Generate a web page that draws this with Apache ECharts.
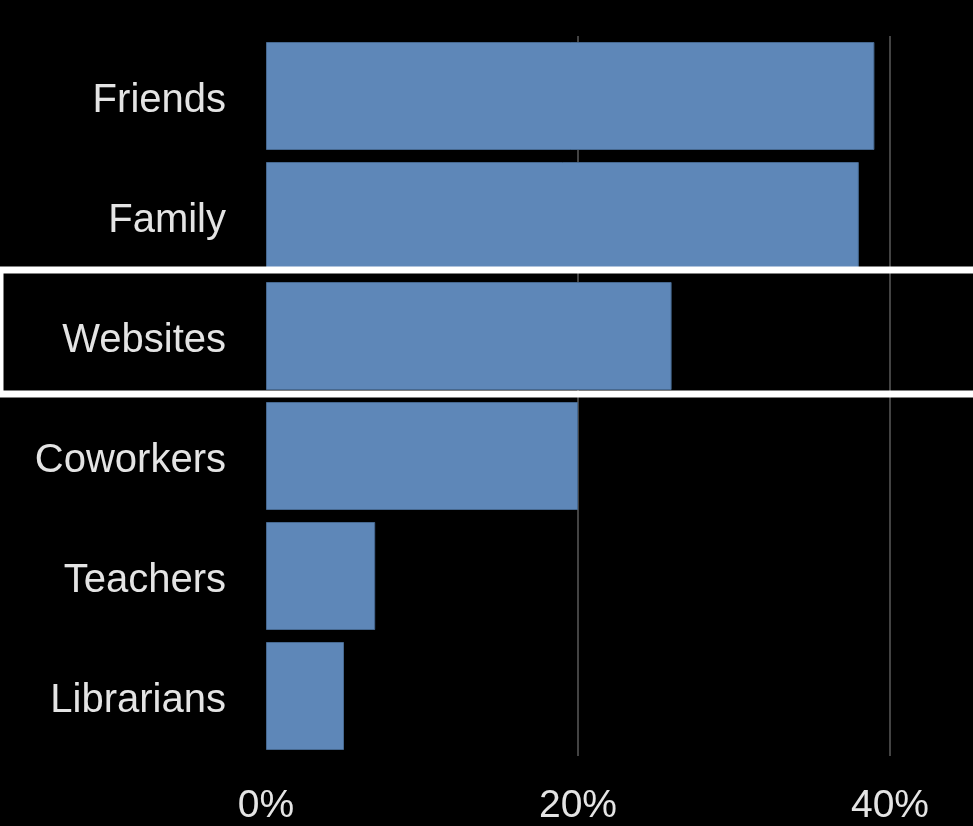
<!DOCTYPE html>
<html>
<head>
<meta charset="utf-8">
<style>
  html, body { margin: 0; padding: 0; background: #000; }
  #chart { width: 973px; height: 826px; }
</style>
<script src="https://cdn.jsdelivr.net/npm/echarts@6/dist/echarts.min.js"></script>
</head>
<body>
<div id="chart"></div>
<script>
// Where people turn for information (share of respondents, %)
const categories = ['Friends', 'Family', 'Websites', 'Coworkers', 'Teachers', 'Librarians'];
const shares = [39, 38, 26, 20, 7, 5];
const tickLabels = ['0%', '20%', '40%'];
const highlighted = 'Websites';

const chart = echarts.init(document.getElementById('chart'));

chart.setOption({
  backgroundColor: '#000',
  animation: false,
  textStyle: { fontFamily: 'Liberation Sans, Arial, sans-serif' },
  grid: { left: 266, right: 5, top: 36, bottom: 66, containLabel: false },
  xAxis: {
    type: 'value',
    min: 0,
    max: 45,
    interval: 20,
    axisLine: { show: false },
    axisTick: { show: false },
    splitLine: {
      show: true,
      showMinLine: false,
      showMaxLine: false,
      lineStyle: { color: '#5a5a5a', width: 1.5 }
    },
    axisLabel: {
      show: true,
      showMaxLabel: false,
      margin: 31,
      color: '#e4e4e4',
      fontSize: 39,
      formatter: function (v) {
        const i = tickLabels.indexOf(v + '%');
        return i >= 0 ? tickLabels[i] : '';
      }
    }
  },
  yAxis: {
    type: 'category',
    data: categories,
    inverse: true,
    axisLine: { show: false },
    axisTick: { show: false },
    splitLine: { show: false },
    axisLabel: {
      margin: 40,
      formatter: function (v) { return '{c|' + v + '}'; },
      rich: {
        c: {
          color: '#e4e4e4',
          fontSize: 40,
          fontFamily: 'Liberation Sans, Arial, sans-serif',
          padding: [9, 0, 0, 0]
        }
      }
    }
  },
  series: [{
    type: 'bar',
    data: shares,
    barCategoryGap: '10%',
    itemStyle: {
      color: '#5e87b8',
      borderColor: '#46688f',
      borderWidth: 1
    }
  }]
});

// White frame around the highlighted row, spanning the full width
const cy = chart.convertToPixel({ yAxisIndex: 0 }, highlighted);
chart.setOption({
  graphic: [{
    type: 'rect',
    z: 100,
    shape: { x: 0, y: cy - 66, width: 980, height: 124 },
    style: { fill: 'none', stroke: '#ffffff', lineWidth: 7 }
  }]
});
</script>
</body>
</html>
